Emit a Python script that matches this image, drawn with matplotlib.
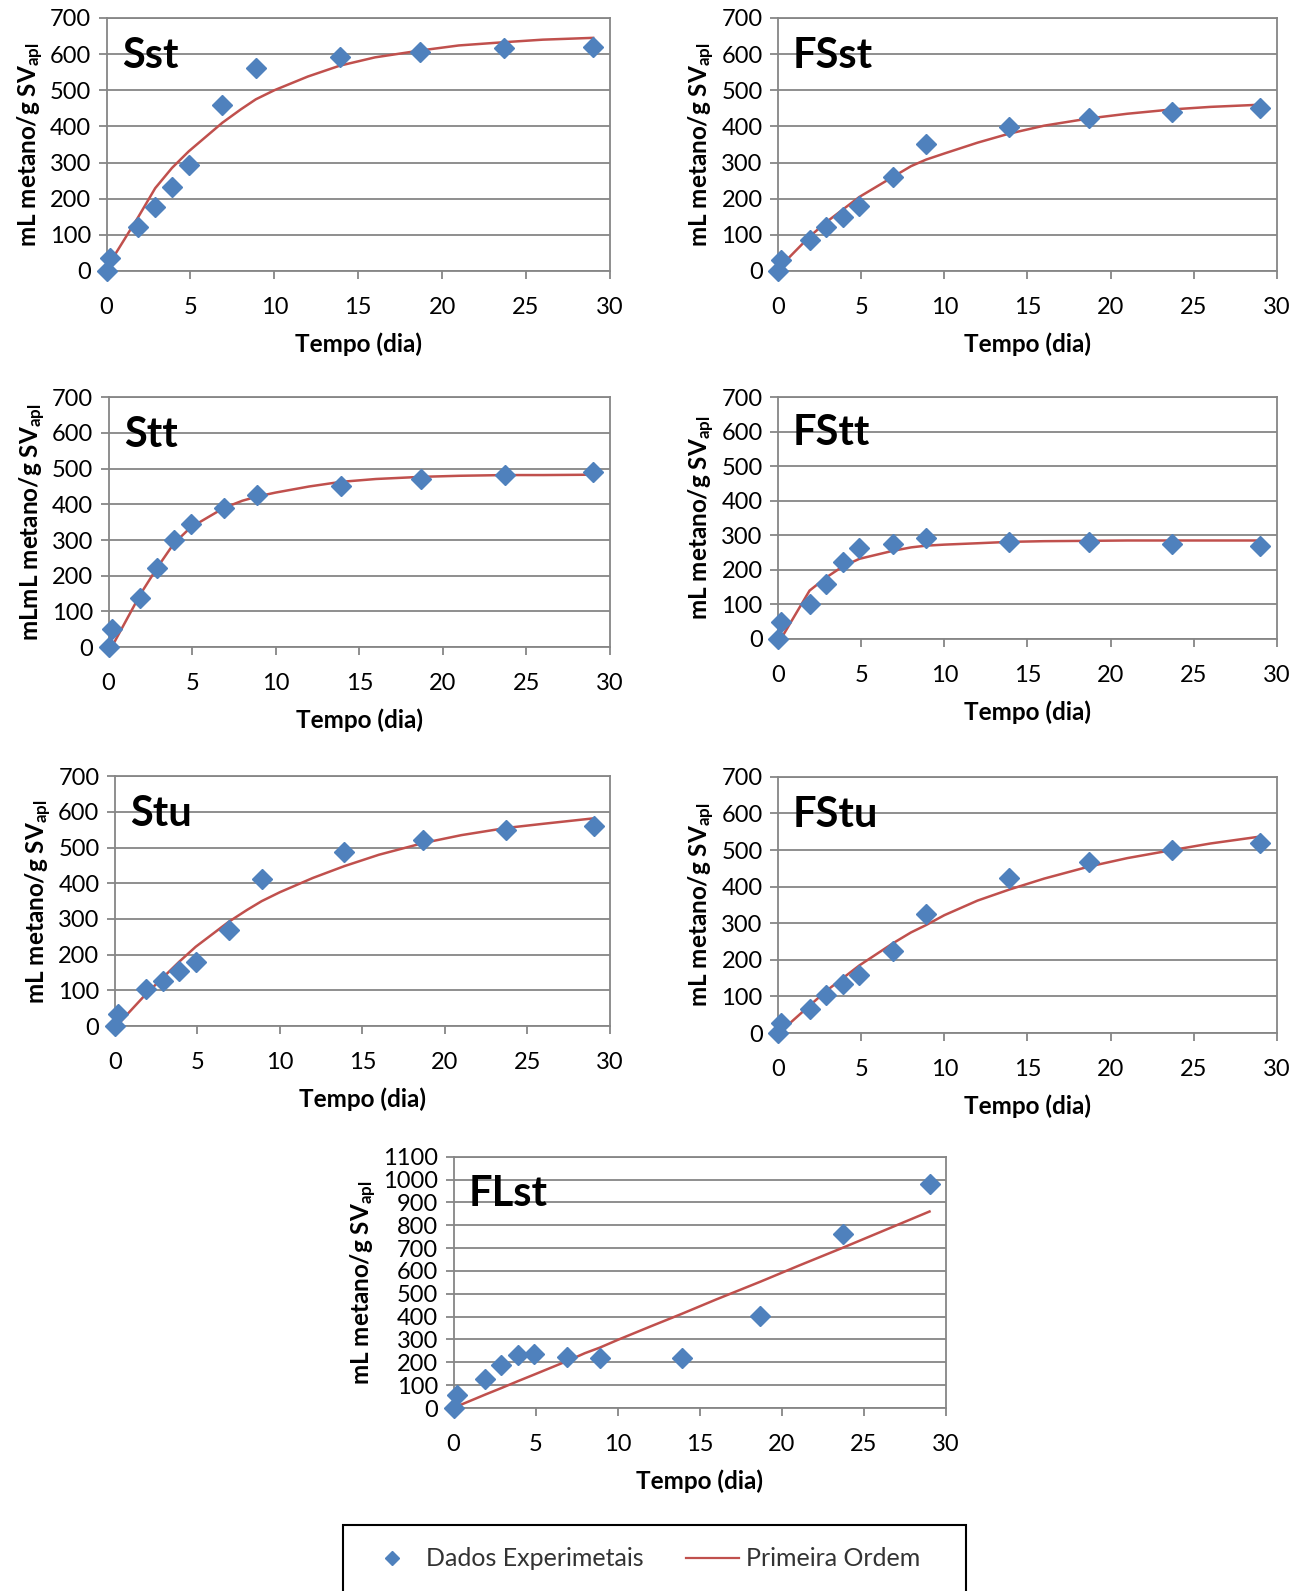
import matplotlib
matplotlib.use("Agg")
import matplotlib.pyplot as plt
from matplotlib.lines import Line2D
from matplotlib.patches import Rectangle

plt.rcParams['font.family'] = ['Lato', 'DejaVu Sans']
plt.rcParams['mathtext.fontset'] = 'custom'
plt.rcParams['mathtext.rm'] = 'Lato:bold'
plt.rcParams['mathtext.it'] = 'Lato:bold'
plt.rcParams['mathtext.bf'] = 'Lato:bold'

# measured days
t = [0, 0.2, 1.9, 2.9, 3.9, 4.9, 6.9, 8.9, 13.9, 18.7, 23.7, 29.0]
tc = [0.3, 1.9, 2.9, 3.9, 4.9, 6.9, 8, 8.9, 10, 12, 13.9, 16, 18.7, 21, 23.7, 26, 29.0]

sst = [0, 35, 122, 178, 232, 292, 458, 562, 592, 605, 617, 621]
sst_fit = [30, 150, 229, 285, 331, 410, 447, 475, 500, 538, 568, 591, 610, 624, 633, 640, 645]

fsst = [0, 30, 85, 122, 150, 180, 260, 350, 397, 424, 440, 452]
fsst_fit = [20, 95, 135, 170, 205, 260, 290, 308, 325, 355, 380, 402, 422, 435, 447, 454, 460]

stt = [0, 50, 137, 222, 300, 345, 390, 426, 452, 472, 483, 490]
stt_fit = [10, 148, 222, 290, 335, 390, 410, 422, 433, 450, 463, 471, 477, 480, 482, 482, 483]

fstt = [0, 48, 100, 158, 222, 262, 275, 293, 280, 281, 276, 270]
fstt_fit = [10, 140, 178, 210, 232, 255, 265, 270, 273, 277, 281, 283, 284, 285, 285, 285, 285]

stu = [0, 35, 103, 127, 153, 180, 268, 412, 488, 522, 550, 561]
stu_fit = [10, 90, 135, 180, 222, 292, 325, 350, 375, 415, 448, 480, 513, 535, 555, 567, 582]

fstu = [0, 28, 67, 105, 135, 158, 225, 325, 425, 468, 500, 518]
fstu_fit = [10, 75, 115, 150, 185, 245, 275, 295, 322, 362, 392, 422, 455, 478, 500, 518, 537]

flst = [0, 58, 128, 190, 233, 235, 222, 218, 218, 403, 763, 980]
flst_fit = [10, 58, 87, 117, 146, 205, 240, 264, 298, 357, 412, 475, 553, 622, 701, 770, 860]

ylab = 'mL metano/g SV$_{\\mathrm{apl}}$'
ylab_stt = 'mLmL metano/g SV$_{\\mathrm{apl}}$'

# name, data, fit, ymax, ylabel, [left, bottom, width, height] in figure fraction
panels = [
    ('Sst', sst, sst_fit, 700, ylab, [0.0817, 0.8297, 0.386, 0.159]),
    ('FSst', fsst, fsst_fit, 700, ylab, [0.5966, 0.8297, 0.3827, 0.159]),
    ('Stt', stt, stt_fit, 700, ylab_stt, [0.0833, 0.5933, 0.3845, 0.157]),
    ('FStt', fstt, fstt_fit, 700, ylab, [0.5966, 0.5984, 0.3827, 0.152]),
    ('Stu', stu, stu_fit, 700, ylab, [0.0880, 0.3551, 0.3798, 0.157]),
    ('FStu', fstu, fstu_fit, 700, ylab, [0.5966, 0.3507, 0.3827, 0.161]),
    ('FLst', flst, flst_fit, 1100, ylab, [0.3478, 0.1150, 0.3776, 0.158]),
]

gray = '#868686'
blue = '#4F81BD'
red = '#C0504D'

fig = plt.figure(figsize=(13.04, 15.91), dpi=100)

for name, y, yfit, ymax, yl, rect in panels:
    ax = fig.add_axes(rect)
    ax.plot(tc, yfit, '-', color=red, lw=1.8, zorder=3, clip_on=False)
    ax.plot(t, y, 'D', color=blue, ms=10.5, mec=blue, zorder=4, clip_on=False)
    ax.set_xlim(0, 30)
    ax.set_ylim(0, ymax)
    ax.set_xticks(range(0, 31, 5))
    ax.set_yticks(range(0, ymax + 1, 100))
    ax.yaxis.grid(True, color=gray, lw=1.3)
    ax.set_axisbelow(True)
    for s in ax.spines.values():
        s.set_color(gray)
        s.set_linewidth(1.3)
    ax.tick_params(axis='both', direction='out', length=6, width=1.3, color=gray,
                   labelsize=17, pad=5)
    ax.tick_params(axis='x', pad=13)
    ax.set_xlabel('Tempo (dia)', fontsize=17.5, fontweight='bold', labelpad=10)
    ax.set_ylabel(yl, fontsize=17.5, fontweight='bold', labelpad=3)
    ax.text(0.03, 0.85, name, transform=ax.transAxes, fontsize=30, fontweight='bold',
            va='center', ha='left')

# legend box (bottom edge runs off the canvas as in the original)
fig.add_artist(Rectangle((343 / 1304, -0.02), 623 / 1304, 1 - 1525 / 1591 + 0.02,
                         transform=fig.transFigure, fill=False, ec='black', lw=1.5))

handles = [Line2D([], [], ls='none', marker='D', ms=7, color=blue),
           Line2D([], [], color=red, lw=1.6)]
labels = ['Dados Experimetais', 'Primeira Ordem']
leg = fig.legend(handles, labels, loc='upper left', ncol=2,
                 bbox_to_anchor=(343 / 1304, 1 - 1525 / 1591 - 0.01, 600 / 1304, 0.01),
                 mode='expand', borderpad=0.9, fontsize=18, handlelength=2.1,
                 handletextpad=0.3, frameon=False, borderaxespad=0)
for txt in leg.get_texts():
    txt.set_color('#333333')

fig.savefig('out.png', dpi=100)
